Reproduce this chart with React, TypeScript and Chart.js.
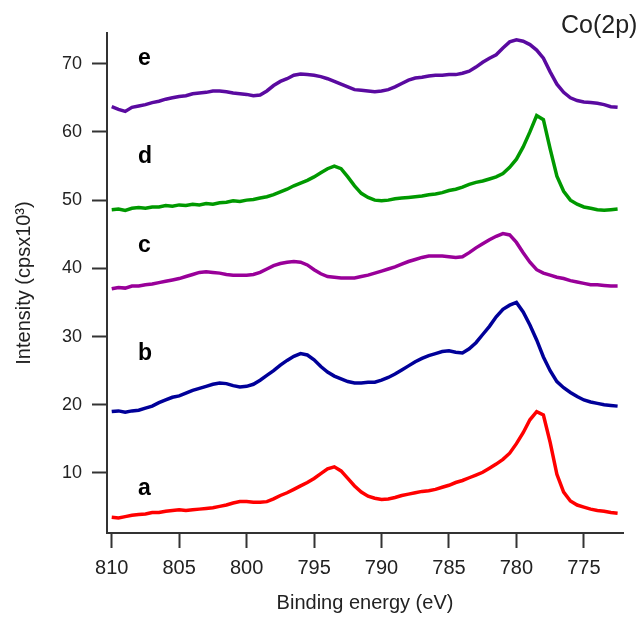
import React, { useEffect, useRef } from "react";
import { Chart, registerables } from "chart.js";

Chart.register(...registerables);

// Binding energy (eV), high to low
const energy = [
  810, 809.5, 809, 808.5, 808, 807.5, 807, 806.5, 806, 805.5,
  805, 804.5, 804, 803.5, 803, 802.5, 802, 801.5, 801, 800.5,
  800, 799.5, 799, 798.5, 798, 797.5, 797, 796.5, 796, 795.5,
  795, 794.5, 794, 793.5, 793, 792.5, 792, 791.5, 791, 790.5,
  790, 789.5, 789, 788.5, 788, 787.5, 787, 786.5, 786, 785.5,
  785, 784.5, 784, 783.5, 783, 782.5, 782, 781.5, 781, 780.5,
  780, 779.5, 779, 778.5, 778, 777.5, 777, 776.5, 776, 775.5,
  775, 774.5, 774, 773.5, 773, 772.5,
];

// Intensity (cps x 10^3)
const seriesA = [
  3.5, 3.4, 3.6, 3.8, 3.9, 4.0, 4.2, 4.2, 4.4, 4.5,
  4.6, 4.5, 4.6, 4.7, 4.8, 4.9, 5.1, 5.3, 5.6, 5.8,
  5.8, 5.7, 5.7, 5.8, 6.2, 6.7, 7.1, 7.6, 8.1, 8.6,
  9.2, 9.9, 10.6, 10.9, 10.3, 9.2, 8.1, 7.2, 6.6, 6.3,
  6.1, 6.2, 6.4, 6.7, 6.9, 7.1, 7.3, 7.4, 7.6, 7.9,
  8.2, 8.6, 8.9, 9.3, 9.7, 10.1, 10.7, 11.3, 12.0, 12.9,
  14.3, 15.9, 17.8, 19.0, 18.5, 14.5, 9.8, 7.2, 5.9, 5.3,
  5.0, 4.7, 4.5, 4.4, 4.2, 4.1,
];
const seriesB = [
  19.0, 19.1, 18.9, 19.1, 19.2, 19.5, 19.8, 20.3, 20.7, 21.1,
  21.3, 21.7, 22.1, 22.4, 22.7, 23.0, 23.2, 23.1, 22.8, 22.6,
  22.7, 23.0, 23.6, 24.3, 25.0, 25.8, 26.5, 27.1, 27.5, 27.3,
  26.6, 25.6, 24.8, 24.2, 23.8, 23.4, 23.2, 23.2, 23.3, 23.3,
  23.6, 24.0, 24.5, 25.1, 25.7, 26.3, 26.8, 27.2, 27.5, 27.8,
  27.9, 27.7, 27.6, 28.2, 29.1, 30.3, 31.5, 32.9, 34.0, 34.6,
  35.0, 33.6, 31.7, 29.5, 27.0, 25.0, 23.4, 22.5, 21.8, 21.2,
  20.7, 20.4, 20.2, 20.0, 19.9, 19.8,
];
const seriesC = [
  37.0, 37.2, 37.1, 37.4, 37.4, 37.6, 37.7, 37.9, 38.1, 38.3,
  38.5, 38.8, 39.1, 39.4, 39.5, 39.4, 39.3, 39.1, 39.0, 39.0,
  39.0, 39.1, 39.4, 39.9, 40.4, 40.7, 40.9, 41.0, 40.9, 40.5,
  39.8, 39.2, 38.8, 38.7, 38.6, 38.6, 38.6, 38.8, 39.0, 39.3,
  39.6, 39.9, 40.2, 40.6, 41.0, 41.3, 41.6, 41.8, 41.8, 41.8,
  41.7, 41.6, 41.7, 42.3, 43.0, 43.6, 44.2, 44.7, 45.1, 44.9,
  43.8, 42.3, 40.9, 39.8, 39.3, 39.0, 38.7, 38.5, 38.2, 38.0,
  37.8, 37.6, 37.6, 37.5, 37.4, 37.4,
];
const seriesD = [
  48.6, 48.7, 48.5, 48.8, 48.9, 48.8, 49.0, 49.0, 49.2, 49.1,
  49.3, 49.2, 49.4, 49.3, 49.5, 49.4, 49.6, 49.7, 49.9, 49.8,
  50.0, 50.1, 50.3, 50.5, 50.8, 51.2, 51.6, 52.1, 52.5, 52.9,
  53.4, 54.0, 54.6, 55.0, 54.6, 53.4, 52.1, 51.0, 50.4, 50.0,
  49.9, 50.0, 50.2, 50.3, 50.4, 50.5, 50.6, 50.8, 50.9, 51.1,
  51.4, 51.6, 51.9, 52.3, 52.6, 52.8, 53.1, 53.4, 53.9, 54.8,
  56.0, 57.8, 60.0, 62.4, 61.8, 57.5, 53.5, 51.3, 50.0, 49.4,
  49.0, 48.8, 48.6, 48.5, 48.6, 48.7,
];
const seriesE = [
  63.7, 63.3, 63.0, 63.6, 63.8, 64.0, 64.3, 64.5, 64.8, 65.0,
  65.2, 65.3, 65.6, 65.7, 65.8, 66.0, 66.0, 65.9, 65.7, 65.6,
  65.5, 65.3, 65.4, 66.0, 66.8, 67.4, 67.8, 68.3, 68.5, 68.4,
  68.3, 68.1, 67.8, 67.4, 67.0, 66.6, 66.2, 66.1, 66.0, 65.9,
  66.0, 66.2, 66.6, 67.1, 67.6, 67.9, 68.0, 68.2, 68.3, 68.3,
  68.4, 68.4, 68.6, 68.9, 69.5, 70.2, 70.8, 71.3, 72.3, 73.2,
  73.5, 73.3, 72.8, 72.0, 70.8, 68.8, 67.0, 65.8, 65.0, 64.6,
  64.4, 64.3, 64.2, 64.0, 63.7, 63.6,
];

const seriesNames = ["a", "b", "c", "d", "e"];
const seriesValues = [seriesA, seriesB, seriesC, seriesD, seriesE];
const seriesColors = ["#ff0000", "#000099", "#990099", "#009900", "#5a0aa0"];
// letter label anchor (energy, intensity at baseline)
const letterEnergy = 808.05;
const letterValues = [6.8, 26.6, 42.4, 55.4, 69.8];
const panelTitle = "Co(2p)";
const panelTitleEnergy = 776.7;
const panelTitleValue = 74.5;

const xTitle = "Binding energy (eV)";
const yTitle = "Intensity (cpsx10\u00B3)";
const xMin = 772.1;
const xMax = 810.35;
const yMin = 1.2;
const yMax = 74.5;

const FONT = '"Liberation Sans", Arial, Helvetica, sans-serif';

const annotPlugin = {
  id: "annotations",
  afterDatasetsDraw(chart: any) {
    const { ctx, scales } = chart;
    const x = scales.x;
    const y = scales.y;
    ctx.save();
    ctx.textAlign = "left";
    ctx.textBaseline = "alphabetic";
    ctx.fillStyle = "#000000";
    ctx.font = `bold 23px ${FONT}`;
    seriesNames.forEach((n, i) => {
      ctx.fillText(n, x.getPixelForValue(letterEnergy), y.getPixelForValue(letterValues[i]));
    });
    ctx.fillStyle = "#222222";
    ctx.font = `25px ${FONT}`;
    ctx.fillText(panelTitle, x.getPixelForValue(panelTitleEnergy), y.getPixelForValue(panelTitleValue));
    ctx.restore();
  },
};

export default function App() {
  const ref = useRef<HTMLCanvasElement | null>(null);

  useEffect(() => {
    if (!ref.current) return;
    const datasets = seriesValues.map((vals, i) => ({
      label: seriesNames[i],
      data: vals.map((v, j) => ({ x: energy[j], y: v })),
      borderColor: seriesColors[i],
      backgroundColor: seriesColors[i],
      borderWidth: 3.5,
      pointRadius: 0,
      tension: 0,
      fill: false,
    }));
    const chart = new Chart(ref.current, {
      type: "line",
      data: { datasets },
      plugins: [annotPlugin],
      options: {
        animation: false,
        responsive: false,
        devicePixelRatio: 1,
        layout: { padding: { left: 0, right: 16, top: 33, bottom: 0 } },
        plugins: {
          legend: { display: false },
          tooltip: { enabled: false },
        },
        scales: {
          x: {
            type: "linear",
            reverse: true,
            min: xMin,
            max: xMax,
            afterFit: (s: any) => {
              s.height = 85;
            },
            border: { display: true, color: "#333333", width: 2 },
            grid: {
              display: true,
              drawOnChartArea: false,
              drawTicks: true,
              tickLength: 15,
              tickWidth: 2,
              tickColor: "#333333",
            },
            ticks: {
              stepSize: 5,
              includeBounds: false,
              autoSkip: false,
              maxRotation: 0,
              padding: 8,
              color: "#222222",
              font: { family: FONT, size: 20 },
            },
            title: {
              display: true,
              text: xTitle,
              color: "#222222",
              font: { family: FONT, size: 20 },
              padding: { top: 0, bottom: 3 },
            },
          },
          y: {
            type: "linear",
            min: yMin,
            max: yMax,
            afterFit: (s: any) => {
              s.width = 107;
            },
            border: { display: true, color: "#333333", width: 2 },
            grid: {
              display: true,
              drawOnChartArea: false,
              drawTicks: true,
              tickLength: 15,
              tickWidth: 2,
              tickColor: "#333333",
            },
            ticks: {
              stepSize: 10,
              includeBounds: false,
              padding: 10,
              color: "#222222",
              font: { family: FONT, size: 18 },
            },
            title: {
              display: true,
              text: yTitle,
              color: "#222222",
              font: { family: FONT, size: 20 },
              padding: { top: 12, bottom: 0 },
            },
          },
        },
      },
    } as any);
    return () => chart.destroy();
  }, []);

  return (
    <div style={{ position: "absolute", left: 0, top: 0, width: 639, height: 618, background: "#ffffff" }}>
      <canvas ref={ref} width={639} height={618} style={{ display: "block", width: 639, height: 618 }} />
    </div>
  );
}
